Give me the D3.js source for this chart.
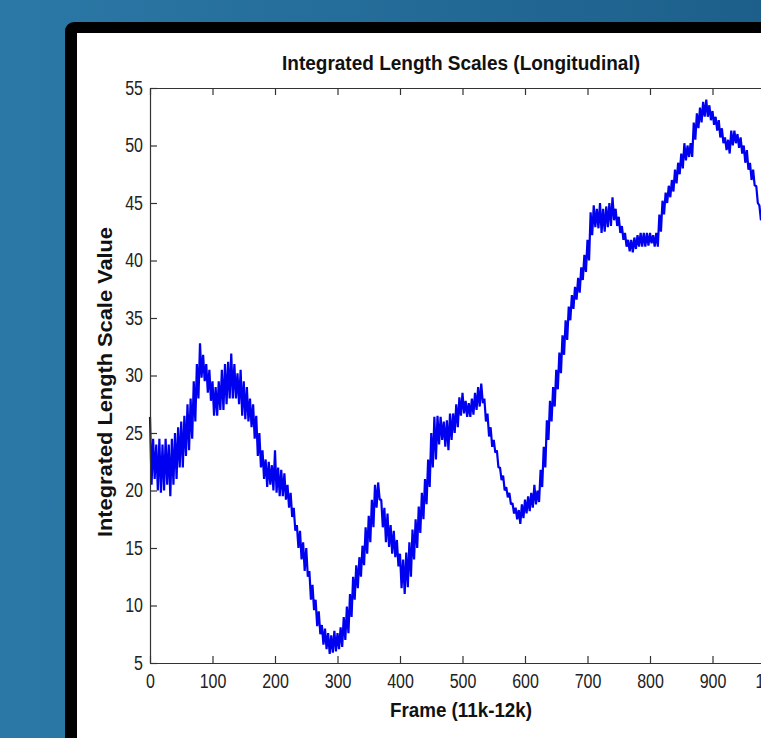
<!DOCTYPE html>
<html>
<head>
<meta charset="utf-8">
<script src="https://cdn.jsdelivr.net/npm/d3@7"></script>
<style>
  html, body { margin: 0; padding: 0; background: #256f9c; overflow: hidden; }
  svg { display: block; }
  .tick text { font-family: 'Liberation Sans', Arial, sans-serif; font-size: 20px; fill: #222; }
  .label { font-family: 'Liberation Sans', Arial, sans-serif; font-weight: bold; font-size: 20px; fill: #111; }
</style>
</head>
<body>
<script>
// Frame numbers, sampled every 5 frames (11k-12k window)
var frames = d3.range(0, 1001, 5);

// lower edge of the noisy trace at each sampled frame
var lows = [
  20.5, 21, 20, 19.8, 20, 20.5, 19.5, 20.5, 21, 22,
  22, 23, 23.5, 24.5, 26, 28, 29.8, 29.5, 28.5, 27.8,
  26.5, 26.5, 27, 27, 27.5, 28, 28, 28, 27.5, 26.5,
  26.2, 26, 25.5, 24.5, 23, 22, 21, 20.3, 20.5, 20,
  19.8, 19.5, 19.5, 19.2, 18.5, 17.7, 16.5, 15, 14, 13,
  12.5, 10.5, 9.6, 8.2, 7.5, 6.6, 6.2, 5.8, 5.9, 6,
  6.2, 6.4, 7, 7.6, 9, 10.5, 11.5, 12.5, 13.5, 14.5,
  15.5, 16.8, 18.5, 19.2, 16.8, 15.5, 15.1, 14.5, 14.2, 13.4,
  11.5, 11, 11.6, 12.5, 14, 15, 16.3, 17.5, 18.8, 20.3,
  22, 22.7, 24, 24.4, 23.8, 23.5, 24.4, 25, 25.5, 26.5,
  26.7, 26.4, 26.4, 26.6, 27, 27.3, 27.6, 26, 24.7, 23.8,
  23.3, 22, 20.9, 20, 19.4, 18.8, 18, 17.5, 17.1, 17.6,
  18, 18.2, 18.5, 18.8, 19, 20.3, 22, 24.4, 26, 27.3,
  28.8, 30.2, 31.8, 33.1, 34.8, 35.8, 36.6, 37.2, 38.3, 39,
  40, 42.2, 42.9, 42.8, 42.4, 42.5, 42.9, 43, 43.5, 43,
  42.4, 41.8, 41.2, 40.8, 40.7, 41, 41.2, 41.2, 41.2, 41.3,
  41.5, 41.2, 41.2, 42.5, 44, 45, 45.5, 46, 46.7, 47.5,
  48, 48.7, 49, 49, 50.5, 51.5, 52, 52.5, 52.5, 52.2,
  51.8, 51.3, 50.7, 50.2, 49.6, 49.3, 50, 50.2, 49.8, 49.3,
  48.5, 47.9, 47, 46.5, 45, 43.5, 42.5, 41.5, 40.5, 40,
  39.5
];

// upper edge of the noisy trace at each sampled frame
var highs = [
  26.4, 24.5, 24, 24.5, 24, 24.5, 24, 24.5, 25, 25.5,
  26, 26.5, 27.5, 28, 29.5, 31, 32.8, 31.8, 31, 30.5,
  29.5, 29, 29.5, 30.5, 31, 31.2, 31.9, 31, 30.2, 30.5,
  29.5, 29, 28, 27.5, 26.5, 25, 23.5, 22.7, 22.5, 22.2,
  23.5, 22, 21.8, 21.5, 20.5, 19.8, 18.5, 17, 16.5, 15.5,
  15, 13, 11.8, 10.5, 9.5, 8.3, 8, 7.6, 7.4, 7.8,
  7.6, 8.1, 9, 9.9, 11, 12.5, 13.5, 14.2, 15.2, 16.8,
  17.8, 19.2, 20.5, 20.7, 19.2, 18.5, 18, 17, 16.5, 15.7,
  14.5, 14, 14.6, 15.5, 16.6, 17.5, 18.6, 19.8, 21, 22.7,
  25, 26.4, 26.5, 26.4, 26, 26.1, 26.7, 26.7, 27.5, 28.1,
  28.5, 27.8, 27.6, 28, 28.5, 29, 29.3, 28, 26.7, 25.5,
  24.4, 23.5, 22, 21.3, 20.3, 19.8, 18.9, 18.5, 18.3, 18.8,
  19.2, 19.5, 19.8, 20.5, 20, 21.8, 23.8, 26.1, 27.8, 29,
  30.5, 32, 33.5, 34.8, 36, 37, 37.7, 38.5, 39.4, 40.5,
  41.8, 44.2, 44.8, 44.5, 45, 44.5, 44.7, 45, 45.5, 44.5,
  43.8, 43, 42.4, 41.8, 41.8, 42, 42.2, 42.4, 42.4, 42.4,
  42.4, 42.2, 42.4, 44, 45.2, 45.9, 46.5, 47, 47.9, 48.5,
  49.3, 50.2, 50, 50.2, 52, 52.8, 53.3, 53.8, 54, 53.5,
  53, 52.5, 52.2, 51.5, 50.7, 50.5, 51.3, 51.3, 51, 50.7,
  50, 49.6, 48.5, 47.9, 46.5, 44.8, 44, 43, 42, 41.5,
  41
];

var xTicks = [0, 100, 200, 300, 400, 500, 600, 700, 800, 900, 1000];
var yTicks = [5, 10, 15, 20, 25, 30, 35, 40, 45, 50, 55];

var width = 761, height = 738;

var svg = d3.select("body").append("svg")
    .attr("width", width)
    .attr("height", height);

// slide background
var defs = svg.append("defs");
var grad = defs.append("linearGradient")
    .attr("id", "bg")
    .attr("x1", "0").attr("y1", "0")
    .attr("x2", "1").attr("y2", "0");
grad.append("stop").attr("offset", "0").attr("stop-color", "#2b78a6");
grad.append("stop").attr("offset", "1").attr("stop-color", "#1d5f8b");
svg.append("rect")
    .attr("width", width).attr("height", height)
    .attr("fill", "url(#bg)");

// black picture frame and white panel
svg.append("rect")
    .attr("x", 65).attr("y", 22)
    .attr("width", 760).attr("height", 760)
    .attr("rx", 9)
    .attr("fill", "#000");
svg.append("rect")
    .attr("x", 77).attr("y", 33)
    .attr("width", 760).attr("height", 760)
    .attr("fill", "#fff");

var x = d3.scaleLinear().domain([0, 1000]).range([150, 775]);
var y = d3.scaleLinear().domain([5, 55]).range([663, 88]);

// the trace: go up to the upper edge, then down to the lower edge half a step later
var pts = [];
frames.forEach(function(f, i) {
    pts.push([f, highs[i]]);
    pts.push([Math.min(f + 2.5, 1000), lows[i]]);
});

var line = d3.line()
    .x(function(d) { return x(d[0]); })
    .y(function(d) { return y(d[1]); });

svg.append("path")
    .datum(pts)
    .attr("d", line)
    .attr("fill", "none")
    .attr("stroke", "#0000f0")
    .attr("stroke-width", 2.2)
    .attr("stroke-linejoin", "bevel");

// axes, matlab style: inward ticks on all four sides
function styleAxis(g) {
    g.select(".domain").attr("stroke", "#333").attr("stroke-width", 1.2);
    g.selectAll(".tick line").attr("stroke", "#333").attr("stroke-width", 1.2);
}

svg.append("g")
    .attr("transform", "translate(0,663)")
    .call(d3.axisBottom(x).tickValues(xTicks).tickSizeInner(-7).tickSizeOuter(0).tickPadding(11))
    .call(styleAxis);

svg.append("g")
    .attr("transform", "translate(150,0)")
    .call(d3.axisLeft(y).tickValues(yTicks).tickSizeInner(-7).tickSizeOuter(0).tickPadding(7))
    .call(styleAxis);

svg.append("g")
    .attr("transform", "translate(0,88)")
    .call(d3.axisTop(x).tickValues(xTicks).tickSizeInner(-7).tickSizeOuter(0).tickFormat(""))
    .call(styleAxis);

svg.append("g")
    .attr("transform", "translate(775,0)")
    .call(d3.axisRight(y).tickValues(yTicks).tickSizeInner(-7).tickSizeOuter(0).tickFormat(""))
    .call(styleAxis);

// narrow look for the tick numbers, like the matlab export
svg.selectAll(".tick text")
    .attr("font-family", null).attr("font-size", null).attr("fill", "#222")
    .each(function() {
        var w = this.getComputedTextLength();
        if (w > 0) {
            d3.select(this)
                .attr("textLength", w * 0.8)
                .attr("lengthAdjust", "spacingAndGlyphs");
        }
    });

// labels
svg.append("text")
    .attr("class", "label")
    .attr("x", 461).attr("y", 70)
    .attr("text-anchor", "middle")
    .attr("textLength", 358)
    .attr("lengthAdjust", "spacingAndGlyphs")
    .text("Integrated Length Scales (Longitudinal)");

svg.append("text")
    .attr("class", "label")
    .attr("x", 461).attr("y", 717)
    .attr("text-anchor", "middle")
    .attr("textLength", 142)
    .attr("lengthAdjust", "spacingAndGlyphs")
    .text("Frame (11k-12k)");

svg.append("text")
    .attr("class", "label")
    .attr("transform", "translate(112,382) rotate(-90)")
    .attr("text-anchor", "middle")
    .attr("textLength", 310)
    .attr("lengthAdjust", "spacingAndGlyphs")
    .text("Integrated Length Scale Value");
</script>
</body>
</html>
